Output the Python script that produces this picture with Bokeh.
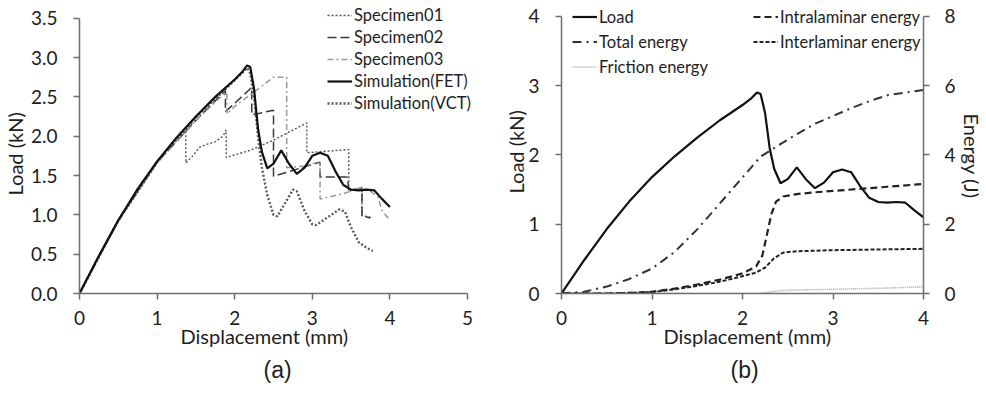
from bokeh.plotting import figure
from bokeh.models import (Range1d, LinearAxis, FixedTicker, Legend, LegendItem, Title,
                          NumeralTickFormatter)
from bokeh.layouts import row
from bokeh.embed import file_html
from bokeh.resources import INLINE

# ---------------- Panel (a) data: Load vs displacement ----------------
spec01_x = [0, 0.5, 1.0, 1.2, 1.37, 1.37, 1.45, 1.55, 1.65, 1.75, 1.85, 1.89, 1.89, 2.2, 2.5, 2.93, 2.93, 3.2, 3.47, 3.47, 3.64, 3.64, 3.75]
spec01_y = [0, 0.92, 1.66, 1.92, 2.07, 1.66, 1.74, 1.86, 1.90, 1.93, 2.00, 2.08, 1.73, 1.82, 1.95, 2.17, 1.79, 1.81, 1.83, 1.30, 1.35, 0.99, 0.97]

spec02_x = [0, 0.5, 1.0, 1.5, 1.88, 1.88, 2.22, 2.22, 2.50, 2.50, 3.10, 3.10, 3.45, 3.47, 3.64, 3.64, 3.75]
spec02_y = [0, 0.93, 1.67, 2.20, 2.58, 2.31, 2.62, 2.27, 2.33, 1.49, 1.67, 1.48, 1.48, 1.32, 1.33, 0.99, 0.96]

spec03_x = [0, 0.5, 1.0, 1.5, 1.8, 1.9, 1.9, 2.0, 2.3, 2.5, 2.67, 2.67, 2.9, 3.1, 3.1, 3.4, 3.64, 3.75, 3.85, 3.9, 4.0]
spec03_y = [0, 0.92, 1.66, 2.20, 2.48, 2.55, 2.28, 2.38, 2.60, 2.75, 2.75, 1.60, 1.62, 1.68, 1.20, 1.27, 1.35, 1.30, 1.22, 1.05, 0.93]

fet_x = [0, 0.25, 0.5, 0.75, 1.0, 1.25, 1.5, 1.75, 2.0, 2.1, 2.16, 2.2, 2.25, 2.3, 2.35, 2.42, 2.5, 2.6, 2.7, 2.8, 2.9, 3.0, 3.1, 3.2, 3.3, 3.4, 3.5, 3.6, 3.7, 3.8, 3.9, 4.0]
fet_y = [0, 0.48, 0.93, 1.33, 1.68, 1.98, 2.25, 2.50, 2.72, 2.82, 2.90, 2.88, 2.60, 2.10, 1.80, 1.59, 1.65, 1.82, 1.65, 1.52, 1.60, 1.75, 1.79, 1.75, 1.55, 1.38, 1.32, 1.31, 1.32, 1.31, 1.20, 1.10]

vct_x = [0, 0.5, 1.0, 1.5, 2.0, 2.16, 2.2, 2.25, 2.3, 2.35, 2.42, 2.5, 2.55, 2.65, 2.75, 2.8, 2.9, 3.0, 3.05, 3.2, 3.35, 3.42, 3.5, 3.6, 3.7, 3.78]
vct_y = [0, 0.93, 1.67, 2.24, 2.71, 2.87, 2.80, 2.50, 2.00, 1.60, 1.25, 1.00, 0.98, 1.15, 1.32, 1.30, 1.05, 0.88, 0.87, 0.97, 1.07, 1.04, 0.84, 0.65, 0.58, 0.54]

a_xticks = [0, 1, 2, 3, 4, 5]
a_yticks = [0.0, 0.5, 1.0, 1.5, 2.0, 2.5, 3.0, 3.5]

# ---------------- Panel (b) data: Load and energies ----------------
load_x = fet_x
load_y = fet_y

total_x = [0, 0.25, 0.5, 0.75, 1.0, 1.25, 1.5, 1.75, 2.0, 2.2, 2.4, 2.6, 2.8, 3.0, 3.2, 3.4, 3.6, 3.8, 4.0]
total_y = [0, 0.05, 0.20, 0.42, 0.72, 1.20, 1.85, 2.60, 3.35, 3.95, 4.28, 4.60, 4.90, 5.12, 5.35, 5.55, 5.72, 5.80, 5.87]

intra_x = [0, 0.5, 0.8, 1.0, 1.25, 1.5, 1.75, 2.0, 2.15, 2.22, 2.27, 2.32, 2.37, 2.45, 2.6, 2.8, 3.0, 3.3, 3.6, 4.0]
intra_y = [0, 0.0, 0.02, 0.05, 0.14, 0.26, 0.40, 0.58, 0.78, 1.10, 1.70, 2.30, 2.65, 2.80, 2.87, 2.92, 2.96, 3.02, 3.08, 3.16]

inter_x = [0, 0.5, 0.8, 1.0, 1.25, 1.5, 1.75, 2.0, 2.15, 2.25, 2.35, 2.45, 2.6, 3.0, 3.5, 4.0]
inter_y = [0, 0.0, 0.02, 0.04, 0.12, 0.22, 0.34, 0.50, 0.60, 0.75, 1.02, 1.18, 1.22, 1.25, 1.27, 1.29]

fric_x = [0, 2.2, 2.4, 2.6, 3.0, 3.5, 4.0]
fric_y = [0, 0.0, 0.08, 0.10, 0.12, 0.15, 0.19]

b_xticks = [0, 1, 2, 3, 4]
b_yticks = [0, 1, 2, 3, 4]
b_eticks = [0, 2, 4, 6, 8]

FONT = "Lato"
TXT = "#1e1e1e"
AX = "#6e6e6e"


def style_axis(ax, label_standoff):
    ax.axis_line_color = AX
    ax.axis_line_width = 1.5
    ax.major_tick_line_color = AX
    ax.major_tick_line_width = 1.5
    ax.major_tick_in = 0
    ax.major_tick_out = 6
    ax.minor_tick_line_color = None
    ax.major_label_text_font = FONT
    ax.major_label_text_font_size = "19px"
    ax.major_label_text_color = TXT
    ax.major_label_standoff = label_standoff


def style_legend(lg, row_h):
    lg.label_text_font = FONT
    lg.label_text_font_size = "16.5px"
    lg.label_text_color = TXT
    lg.glyph_width = 25
    lg.glyph_height = row_h
    lg.label_height = row_h
    lg.spacing = 0
    lg.padding = 0
    lg.margin = 0
    lg.label_standoff = 2
    lg.border_line_alpha = 0
    lg.background_fill_alpha = 0


def label_title(text, offset, standoff, size="20px", font=FONT, valign="top"):
    return Title(text=text, align="left", offset=offset, standoff=standoff,
                 vertical_align=valign, text_font=font, text_font_size=size,
                 text_font_style="normal", text_color=TXT)


# ---------------- Figure (a) ----------------
# frame reaches the top/right edges so the legend is not clipped; axis bounds keep the axis lines at the data limits
pa = figure(width=493, height=396, x_range=Range1d(0, 5.335), y_range=Range1d(0, 3.725),
            output_backend="svg", toolbar_location=None, title=None,
            min_border_left=79, min_border_right=0, min_border_top=0, min_border_bottom=101)
pa.outline_line_color = None
pa.grid.grid_line_color = None
pa.background_fill_color = "white"
pa.border_fill_color = "white"

r1 = pa.line(spec01_x, spec01_y, line_color="#555555", line_width=1.4, line_dash="2 2")
r2 = pa.line(spec02_x, spec02_y, line_color="#3a3a3a", line_width=1.5, line_dash="9 4")
r3 = pa.line(spec03_x, spec03_y, line_color="#9a9a9a", line_width=1.5, line_dash="6 3 2 3")
r5 = pa.line(vct_x, vct_y, line_color="#5a5a5a", line_width=2.4, line_dash="2 2")
r4 = pa.line(fet_x, fet_y, line_color="#111111", line_width=2.2)

pa.xaxis.ticker = FixedTicker(ticks=a_xticks)
pa.yaxis.ticker = FixedTicker(ticks=a_yticks)
pa.xaxis.bounds = (a_xticks[0], a_xticks[-1])
pa.yaxis.bounds = (a_yticks[0], a_yticks[-1])
pa.yaxis.formatter = NumeralTickFormatter(format="0.0")
style_axis(pa.xaxis[0], 11)
style_axis(pa.yaxis[0], 16)

pa.add_layout(label_title("Load (kN)", 98, 1, valign="bottom"), "left")
pa.add_layout(label_title("Displacement (mm)", 101, -7), "below")
pa.add_layout(label_title("(a)", 184, 20, size="23px", font="Liberation Sans"), "below")

lga = Legend(items=[LegendItem(label="Specimen01", renderers=[r1]),
                    LegendItem(label="Specimen02", renderers=[r2]),
                    LegendItem(label="Specimen03", renderers=[r3]),
                    LegendItem(label="Simulation(FET)", renderers=[r4]),
                    LegendItem(label="Simulation(VCT)", renderers=[r5])],
             location=(248, 179))
style_legend(lga, 22)
pa.add_layout(lga)

# ---------------- Figure (b) ----------------
pb = figure(width=493, height=396, x_range=Range1d(0, 4), y_range=Range1d(0, 4.228),
            output_backend="svg", toolbar_location=None, title=None,
            min_border_left=68, min_border_right=59, min_border_top=0, min_border_bottom=103)
pb.outline_line_color = None
pb.grid.grid_line_color = None
pb.background_fill_color = "white"
pb.border_fill_color = "white"
pb.extra_y_ranges = {"energy": Range1d(0, 8.456)}

q1 = pb.line(load_x, load_y, line_color="#111111", line_width=2.2)
q2 = pb.line(total_x, total_y, y_range_name="energy", line_color="#333333", line_width=2,
             line_dash="9 5 2 5")
q3 = pb.line(fric_x, fric_y, y_range_name="energy", line_color="#aaaaaa", line_width=1.6,
             line_dash="1 1")
q4 = pb.line(intra_x, intra_y, y_range_name="energy", line_color="#222222", line_width=2.2,
             line_dash="7 4")
q5 = pb.line(inter_x, inter_y, y_range_name="energy", line_color="#222222", line_width=2,
             line_dash="4 2")

pb.xaxis.ticker = FixedTicker(ticks=b_xticks)
pb.yaxis.ticker = FixedTicker(ticks=b_yticks)
pb.xaxis.bounds = (b_xticks[0], b_xticks[-1])
pb.yaxis.bounds = (b_yticks[0], b_yticks[-1])
style_axis(pb.xaxis[0], 11)
style_axis(pb.yaxis[0], 16)

eax = LinearAxis(y_range_name="energy", ticker=FixedTicker(ticks=b_eticks),
                 bounds=(b_eticks[0], b_eticks[-1]))
style_axis(eax, 15)
pb.add_layout(eax, "right")

pb.add_layout(label_title("Load (kN)", 100, -4, valign="bottom"), "left")
pb.add_layout(label_title("Energy (J)", 113, 2, valign="bottom"), "right")
pb.add_layout(label_title("Displacement (mm)", 102, -7), "below")
pb.add_layout(label_title("(b)", 169, 21, size="23px", font="Liberation Sans"), "below")

lgb1 = Legend(items=[LegendItem(label="Load", renderers=[q1]),
                     LegendItem(label="Total energy", renderers=[q2]),
                     LegendItem(label="Friction energy", renderers=[q3])],
              location=(11, 214))
style_legend(lgb1, 25)
pb.add_layout(lgb1)

lgb2 = Legend(items=[LegendItem(label="Intralaminar energy", renderers=[q4]),
                     LegendItem(label="Interlaminar energy", renderers=[q5])],
              location=(192, 239))
style_legend(lgb2, 25)
pb.add_layout(lgb2)

layout = row(pa, pb)
open("out.html", "w").write(file_html(layout, INLINE))
